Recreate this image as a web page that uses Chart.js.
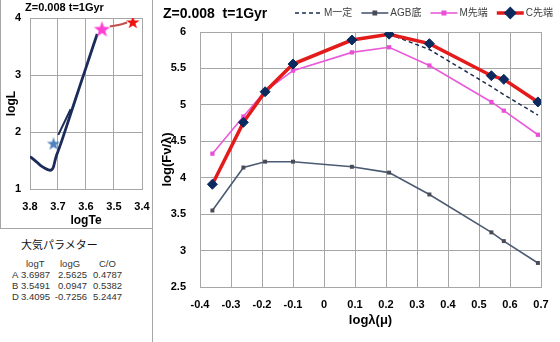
<!DOCTYPE html>
<html>
<head>
<meta charset="utf-8">
<script src="https://cdn.jsdelivr.net/npm/chart.js@4.4.1/dist/chart.umd.min.js"></script>
<style>
  html, body { margin: 0; padding: 0; background: #fff; }
  #wrap { position: relative; width: 560px; height: 342px; overflow: hidden;
          font-family: "Liberation Sans", Arial, "Noto Sans CJK JP", sans-serif; color: #000; }
  #hrBox { position: absolute; left: 0; top: 0; width: 152px; height: 228px;
           border-left: 1px solid #a6a6a6; border-bottom: 1px solid #a6a6a6; }
  #sep { position: absolute; left: 152px; top: 0; width: 1px; height: 342px; background: #a6a6a6; }
  #hrCanvasBox { position: absolute; left: 1px; top: 0; width: 151px; height: 228px; }
  #mainCanvasBox { position: absolute; left: 153px; top: 0; width: 407px; height: 342px; }
  .ttl { position: absolute; font-weight: bold; white-space: nowrap; line-height: 1; }
  #hrTitle { left: 25px; top: 2px; font-size: 11px; }
  #mainTitle { left: 163px; top: 6px; font-size: 14px; }
  #params { position: absolute; left: 0; top: 236px; width: 152px; font-size: 9.5px; color: #333; }
  #params .cell { position: absolute; white-space: nowrap; line-height: 1; }
</style>
</head>
<body>
<div id="wrap">
  <div id="hrBox"></div>
  <div id="hrCanvasBox"><canvas id="hrChart" width="151" height="228"></canvas></div>
  <div id="sep"></div>
  <div id="hrTitle" class="ttl">Z=0.008 t=1Gyr</div>
  <div id="params"></div>
  <div id="mainCanvasBox"><canvas id="sedChart" width="407" height="342"></canvas></div>
  <div id="mainTitle" class="ttl">Z=0.008&nbsp;&nbsp;t=1Gyr</div>
</div>

<script>
/* ---------------------------------------------------------------
   DATA
   --------------------------------------------------------------- */

// SED panel (log lambda in micron)
const bandX     = [-0.36, -0.26, -0.19, -0.10, 0.09, 0.21, 0.34, 0.54, 0.58, 0.69];
const agbBottom = [3.55, 4.14, 4.22, 4.22, 4.15, 4.07, 3.77, 3.25, 3.13, 2.83];
const mTip      = [4.33, 4.84, 5.19, 5.47, 5.72, 5.79, 5.54, 5.04, 4.92, 4.59];
const cTip      = [3.91, 4.76, 5.18, 5.56, 5.89, 5.97, 5.84, 5.40, 5.35, 5.04];
const mConstX   = [0.21, 0.34, 0.54, 0.58, 0.69];
const mConst    = [5.97, 5.76, 5.25, 5.14, 4.86];

const xTicks = [-0.4, -0.3, -0.2, -0.1, 0, 0.1, 0.2, 0.3, 0.4, 0.5, 0.6, 0.7];
const yTicks = [2.5, 3, 3.5, 4, 4.5, 5, 5.5, 6];
const legendOrder = ["M一定", "AGB底", "M先端", "C先端"];

// HR diagram panel
const trackTe = [3.800, 3.780, 3.764, 3.745, 3.731, 3.722, 3.716, 3.710, 3.706, 3.700, 3.689, 3.670, 3.640, 3.600, 3.575, 3.560];
const trackL  = [1.57, 1.49, 1.42, 1.36, 1.33, 1.34, 1.39, 1.51, 1.58, 1.66, 1.81, 2.09, 2.54, 3.13, 3.50, 3.72];
const loopTe  = [3.699, 3.655];
const loopL   = [1.95, 2.40];
const linkTe  = [3.515, 3.480, 3.453];
const linkL   = [3.85, 3.88, 3.92];
const starTe  = [3.716, 3.543, 3.433];
const starL   = [1.80, 3.81, 3.93];

const hrXTicks = [3.4, 3.5, 3.6, 3.7, 3.8];
const hrYTicks = [1, 2, 3, 4];

// atmosphere parameters table
const paramTitle = "大気パラメター";
const paramHead  = ["logT", "logG", "C/O"];
const paramRows  = [
  ["A", "3.6987", "2.5625", "0.4787"],
  ["B", "3.5491", "0.0947", "0.5382"],
  ["D", "3.4095", "-0.7256", "5.2447"]
];

/* ---------------------------------------------------------------
   helpers
   --------------------------------------------------------------- */
const pts = (xs, ys) => xs.map((x, i) => ({ x: x, y: ys[i] }));

function starImage(color, size) {
  const c = document.createElement("canvas");
  c.width = size; c.height = size;
  const g = c.getContext("2d");
  g.fillStyle = color;
  g.beginPath();
  for (let i = 0; i < 10; i++) {
    const r = i % 2 ? size * 0.2 : size / 2;
    const a = -Math.PI / 2 + i * Math.PI / 5;
    g.lineTo(size / 2 + r * Math.cos(a), size / 2 + r * Math.sin(a) + size * 0.05);
  }
  g.closePath();
  g.fill();
  return c;
}

Chart.defaults.font.family = '"Liberation Sans", Arial, "Noto Sans CJK JP", sans-serif';
Chart.defaults.color = "#000";

const GRID = "#a6a6a6";

/* ---------------------------------------------------------------
   PARAMETER TABLE (text)
   --------------------------------------------------------------- */
(function buildTable() {
  const box = document.getElementById("params");
  function cell(txt, left, top, opts) {
    const d = document.createElement("div");
    d.className = "cell";
    d.textContent = txt;
    d.style.top = top + "px";
    if (opts && opts.right) { d.style.right = (152 - left) + "px"; }
    else d.style.left = left + "px";
    if (opts && opts.size) d.style.fontSize = opts.size + "px";
    if (opts && opts.color) d.style.color = opts.color;
    box.appendChild(d);
  }
  cell(paramTitle, 21, 4, { size: 11, color: "#111" });
  const headX = [26, 60, 99];
  paramHead.forEach((h, i) => cell(h, headX[i], 23));
  paramRows.forEach((row, r) => {
    const top = 34 + r * 11;
    cell(row[0], 12, top);
    cell(row[1], 21, top);
    cell(row[2], 87, top, { right: true });
    cell(row[3], 93, top);
  });
})();

/* ---------------------------------------------------------------
   HR DIAGRAM
   --------------------------------------------------------------- */
new Chart(document.getElementById("hrChart").getContext("2d"), {
  type: "scatter",
  data: {
    datasets: [
      {
        label: "stars",
        data: pts(starTe, starL),
        pointStyle: [starImage("#4f81bd", 14), starImage("#ff3fd2", 17), starImage("#ee1111", 14)],
        showLine: false
      },
      {
        label: "link",
        data: pts(linkTe, linkL),
        showLine: true,
        borderColor: "#c0504d",
        borderWidth: 2,
        pointRadius: 0,
        tension: 0.3
      },
      {
        label: "loop",
        data: pts(loopTe, loopL),
        showLine: true,
        borderColor: "#1b2b5a",
        borderWidth: 2,
        pointRadius: 0
      },
      {
        label: "track",
        data: pts(trackTe, trackL),
        showLine: true,
        borderColor: "#1b2b5a",
        borderWidth: 2.8,
        pointRadius: 0,
        tension: 0.2
      }
    ]
  },
  options: {
    responsive: false,
    animation: false,
    layout: { padding: { top: 18, right: 10, bottom: 0, left: 0 } },
    plugins: { legend: { display: false }, tooltip: { enabled: false } },
    scales: {
      x: {
        type: "linear", min: 3.4, max: 3.8, reverse: true,
        afterBuildTicks: (axis) => { axis.ticks = hrXTicks.map(v => ({ value: v })); },
        afterFit: (axis) => { axis.height = 39; },
        ticks: { font: { size: 11, weight: "bold" }, padding: 11, callback: (v) => v.toFixed(1) },
        grid: { color: GRID, drawTicks: false },
        border: { color: GRID },
        title: { display: true, text: "logTe", font: { size: 12, weight: "bold" }, padding: { top: 0, bottom: 0 } }
      },
      y: {
        type: "linear", min: 1, max: 4,
        afterBuildTicks: (axis) => { axis.ticks = hrYTicks.map(v => ({ value: v })); },
        afterFit: (axis) => { axis.width = 29; },
        ticks: { font: { size: 11, weight: "bold" }, padding: 9, callback: (v) => String(v) },
        grid: { color: GRID, drawTicks: false },
        border: { color: GRID },
        title: { display: true, text: "logL", font: { size: 12, weight: "bold" }, padding: { top: 3, bottom: 0 } }
      }
    }
  }
});

/* ---------------------------------------------------------------
   SED CHART
   --------------------------------------------------------------- */
const topLegend = {
  id: "topLegend",
  afterDraw(chart) {
    const ctx = chart.ctx;
    ctx.save();
    ctx.font = '10px "Liberation Sans", Arial, "Noto Sans CJK JP", sans-serif';
    ctx.textBaseline = "middle";
    let x = 142;
    const y = 13;
    legendOrder.forEach(name => {
      const ds = chart.data.datasets.find(d => d.label === name);
      ctx.strokeStyle = ds.borderColor;
      ctx.lineWidth = ds.borderWidth;
      ctx.setLineDash(ds.borderDash || []);
      ctx.beginPath();
      ctx.moveTo(x, y);
      ctx.lineTo(x + 27, y);
      ctx.stroke();
      ctx.setLineDash([]);
      if (ds.pointRadius > 0) {
        ctx.fillStyle = ds.pointBackgroundColor;
        ctx.strokeStyle = ds.pointBorderColor;
        Chart.helpers.drawPoint(ctx, { pointStyle: ds.pointStyle, rotation: 0, radius: ds.pointRadius * 0.8, borderWidth: 1 }, x + 13.5, y);
      }
      ctx.fillStyle = "#404040";
      ctx.fillText(name, x + 29, y + 0.5);
      x += 29 + ctx.measureText(name).width + 9;
    });
    ctx.restore();
  }
};

new Chart(document.getElementById("sedChart").getContext("2d"), {
  type: "scatter",
  data: {
    datasets: [
      {
        label: "C先端",
        data: pts(bandX, cTip),
        showLine: true,
        borderColor: "#e31b1b",
        borderWidth: 3.5,
        pointStyle: "rectRot",
        pointRadius: 5,
        pointBackgroundColor: "#0c2a5e",
        pointBorderColor: "#0c2a5e",
        pointBorderWidth: 1
      },
      {
        label: "M先端",
        data: pts(bandX, mTip),
        showLine: true,
        borderColor: "#ea5ad9",
        borderWidth: 1.6,
        pointStyle: "rect",
        pointRadius: 3,
        pointBackgroundColor: "#e84fd6",
        pointBorderColor: "#e84fd6",
        pointBorderWidth: 0
      },
      {
        label: "AGB底",
        data: pts(bandX, agbBottom),
        showLine: true,
        borderColor: "#4b5b72",
        borderWidth: 1.6,
        pointStyle: "rect",
        pointRadius: 2.8,
        pointBackgroundColor: "#4a4a58",
        pointBorderColor: "#4a4a58",
        pointBorderWidth: 0
      },
      {
        label: "M一定",
        data: pts(mConstX, mConst),
        showLine: true,
        borderColor: "#1d2e4f",
        borderWidth: 1.5,
        borderDash: [4, 3],
        pointRadius: 0
      }
    ]
  },
  options: {
    responsive: false,
    animation: false,
    layout: { padding: { top: 32, right: 19, bottom: 0, left: 0 } },
    plugins: { legend: { display: false }, tooltip: { enabled: false } },
    scales: {
      x: {
        type: "linear", min: -0.4, max: 0.7,
        afterBuildTicks: (axis) => { axis.ticks = xTicks.map(v => ({ value: v })); },
        afterFit: (axis) => { axis.height = 55; },
        ticks: { font: { size: 11, weight: "bold" }, padding: 11,
                 callback: (v) => (Math.abs(v) < 1e-9 ? "0" : v.toFixed(1)) },
        grid: { color: GRID, drawTicks: false },
        border: { color: GRID },
        title: { display: true, text: "logλ(μ)", font: { size: 13, weight: "bold" }, padding: { top: 0, bottom: 14 } }
      },
      y: {
        type: "linear", min: 2.5, max: 6,
        afterBuildTicks: (axis) => { axis.ticks = yTicks.map(v => ({ value: v })); },
        afterFit: (axis) => { axis.width = 47; },
        ticks: { font: { size: 11, weight: "bold" }, padding: 14, callback: (v) => String(v) },
        grid: { color: GRID, drawTicks: false },
        border: { color: GRID },
        title: { display: true, text: "log(Fν/λ)", font: { size: 13, weight: "bold" }, padding: { top: 7, bottom: 0 } }
      }
    }
  },
  plugins: [topLegend]
});
</script>
</body>
</html>
